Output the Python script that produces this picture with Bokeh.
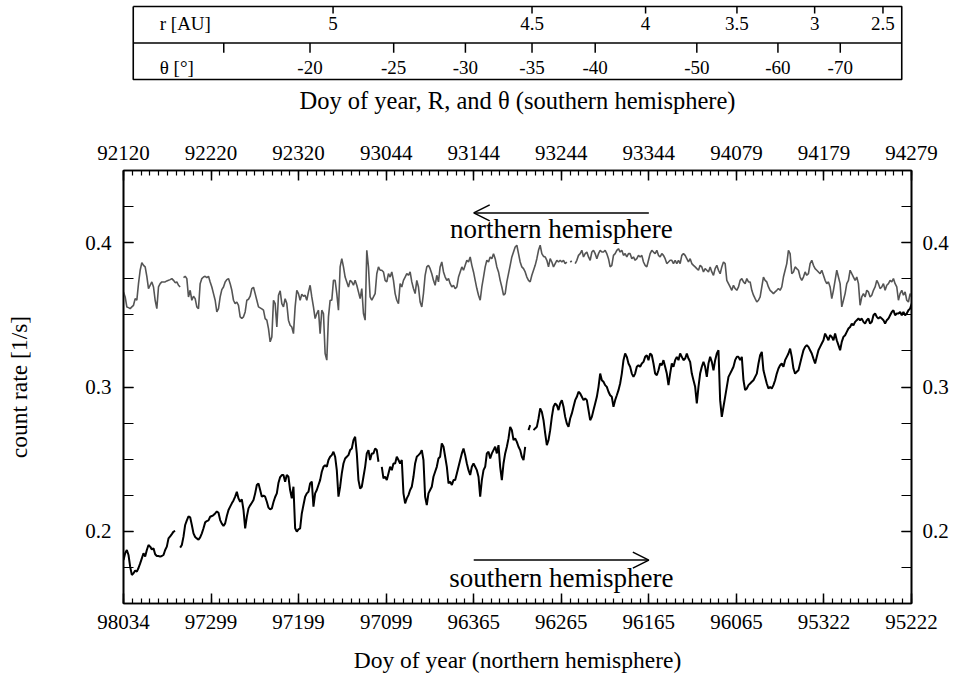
import numpy as np
from bokeh.plotting import figure
from bokeh.models import Range1d, FixedTicker, LinearAxis, Arrow, OpenHead, Label
from bokeh.layouts import column
from bokeh.embed import file_html
from bokeh.resources import INLINE
from bokeh.core.properties import value

nan = float("nan")
FONT = "Liberation Serif"

# ---------------- axis tick data ----------------
tick_days = [0, 100, 200, 300, 400, 500, 600, 700, 800, 900]
bottom_labels = ["98034", "97299", "97199", "97099", "96365",
                 "96265", "96165", "96065", "95322", "95222"]
top_labels = ["92120", "92220", "92320", "93044", "93144",
              "93244", "93344", "94079", "94179", "94279"]
rate_ticks = [0.2, 0.3, 0.4]
rate_labels = ["0.2", "0.3", "0.4"]

# strip above: heliocentric distance and latitude
r_days = [234, 467, 600, 707, 798, 878]
r_labels = ["5", "4.5", "4", "3.5", "3", "2.5"]
theta_days = [106, 207, 305, 389, 467, 541, 660, 755, 828]
theta_labels = ["", "-20", "-25", "-30", "-35", "-40", "-50", "-60", "-70"]

# ---------------- count-rate series (five consecutive segments) ----------------
segment_start = [0.0, 182.7, 365.5, 548.2, 730.9]
day_step = 1.9035

north_1 = [0.3659, 0.3624, 0.3555, 0.3550, 0.3543, 0.3555, 0.3566, 0.3612, 0.3601, 0.3716,
           0.3809, 0.3862, 0.3843, 0.3832, 0.3767, 0.3682, 0.3705, 0.3728, 0.3693, 0.3601,
           0.3543, 0.3693, 0.3716, 0.3728, 0.3728, 0.3728, 0.3735, 0.3739, 0.3744, 0.3751,
           0.3739, 0.3723, 0.3728, 0.3705, 0.3693, nan, 0.3758, 0.3767, 0.3751, 0.3624,
           0.3670, 0.3601, 0.3629, 0.3612, 0.3555, 0.3543, 0.3716, 0.3751, 0.3762, 0.3767,
           0.3758, 0.3767, 0.3728, 0.3693, 0.3647, 0.3601, 0.3520, 0.3543, 0.3624, 0.3675,
           0.3693, 0.3728, 0.3744, 0.3751, 0.3716, 0.3670, 0.3601, 0.3578, 0.3589, 0.3566,
           0.3486, 0.3476, 0.3486, 0.3520, 0.3601, 0.3608, 0.3629, 0.3682, 0.3691, 0.3647,
           0.3601, 0.3555, 0.3548, 0.3541, 0.3532, 0.3474, 0.3463, 0.3405, 0.3313, 0.3347,
           0.3601, 0.3578, 0.3416, 0.3636, 0.3666, 0.3578]
north_2 = [0.3555, 0.3612, 0.3578, 0.3463, 0.3428, 0.3416, 0.3370, 0.3555, 0.3670, 0.3647,
           0.3601, 0.3642, 0.3629, 0.3636, 0.3601, 0.3659, 0.3705, 0.3624, 0.3555, 0.3474,
           0.3509, 0.3532, 0.3370, 0.3532, 0.3509, 0.3232, 0.3186, 0.3486, 0.3601, 0.3601,
           0.3739, 0.3739, 0.3647, 0.3532, 0.3832, 0.3889, 0.3832, 0.3762, 0.3728, 0.3693,
           0.3739, 0.3728, 0.3705, 0.3739, 0.3705, 0.3659, 0.3612, 0.3682, 0.3509, 0.3463,
           0.3947, 0.3832, 0.3624, 0.3601, 0.3624, 0.3647, 0.3785, 0.3832, 0.3809, 0.3809,
           0.3797, 0.3739, 0.3728, 0.3785, 0.3762, 0.3797, 0.3739, 0.3647, 0.3601, 0.3578,
           0.3716, 0.3693, 0.3739, 0.3762, 0.3785, 0.3774, 0.3797, 0.3728, 0.3682, 0.3647,
           0.3739, 0.3693, 0.3589, 0.3555, 0.3647, 0.3774, 0.3832, 0.3843, 0.3820, 0.3785,
           0.3739, 0.3705, 0.3774, 0.3728, 0.3832, 0.3866]
north_3 = [0.3797, 0.3762, 0.3739, 0.3751, 0.3716, 0.3693, 0.3705, 0.3682, 0.3693, 0.3762,
           0.3797, 0.3832, 0.3809, 0.3843, 0.3878, 0.3866, 0.3901, 0.3843, 0.3797, 0.3739,
           0.3682, 0.3636, 0.3601, 0.3693, 0.3762, 0.3832, 0.3878, 0.3866, 0.3901, 0.3889,
           0.3924, 0.3889, 0.3832, 0.3797, 0.3739, 0.3693, 0.3636, 0.3647, 0.3728, 0.3785,
           0.3843, 0.3901, 0.3935, 0.3970, 0.3982, 0.3924, 0.3866, 0.3832, 0.3820, 0.3797,
           0.3762, 0.3739, 0.3728, 0.3774, 0.3809, 0.3843, 0.3889, 0.3947, 0.3982, 0.3924,
           0.3905, 0.3901, 0.3878, 0.3832, 0.3889, 0.3866, 0.3832, 0.3855, 0.3878, 0.3866,
           0.3878, 0.3866, 0.3878, 0.3855, 0.3866, nan, 0.3866, 0.3873, nan, 0.3855,
           0.3878, 0.3912, 0.3924, 0.3947, 0.3901, 0.3924, 0.3935, 0.3901, 0.3878, 0.3935,
           0.3947, 0.3924, 0.3889, 0.3924, 0.3947, 0.3935]
north_4 = [0.3935, 0.3947, 0.3924, 0.3889, 0.3832, 0.3843, 0.3912, 0.3924, 0.3947, 0.3958,
           0.3935, 0.3947, 0.3912, 0.3924, 0.3901, 0.3924, 0.3924, 0.3889, 0.3901, 0.3878,
           0.3889, 0.3912, 0.3901, 0.3912, 0.3866, 0.3843, 0.3832, 0.3878, 0.3924, 0.3947,
           0.3935, 0.3924, 0.3947, 0.3912, 0.3901, 0.3924, 0.3912, 0.3889, 0.3855, 0.3866,
           0.3878, 0.3878, 0.3855, 0.3878, 0.3855, 0.3878, 0.3855, 0.3912, 0.3924, 0.3912,
           0.3889, 0.3866, 0.3889, 0.3855, 0.3843, 0.3832, 0.3820, 0.3809, 0.3843, 0.3832,
           0.3797, 0.3820, 0.3809, 0.3797, 0.3832, 0.3797, 0.3774, 0.3820, 0.3843, 0.3809,
           0.3785, 0.3832, 0.3866, 0.3855, 0.3739, 0.3716, 0.3693, 0.3670, 0.3705, 0.3682,
           0.3670, 0.3693, 0.3739, 0.3751, 0.3728, 0.3716, 0.3751, 0.3728, 0.3728, 0.3670,
           0.3636, 0.3612, 0.3589, 0.3601, 0.3624, 0.3693]
north_5 = [0.3762, 0.3739, 0.3728, 0.3693, 0.3670, 0.3659, 0.3647, 0.3659, 0.3670, 0.3682,
           0.3670, 0.3693, 0.3762, 0.3809, 0.3855, 0.3947, 0.3924, 0.3785, 0.3797, 0.3832,
           0.3820, 0.3809, 0.3762, 0.3739, 0.3762, 0.3797, 0.3774, 0.3785, 0.3855, 0.3878,
           0.3843, 0.3820, 0.3809, 0.3797, 0.3785, 0.3809, 0.3774, 0.3739, 0.3716, 0.3728,
           0.3693, 0.3612, 0.3670, 0.3739, 0.3809, 0.3762, 0.3716, 0.3555, 0.3601, 0.3647,
           0.3716, 0.3739, 0.3809, 0.3785, 0.3762, 0.3739, 0.3762, 0.3716, 0.3566, 0.3624,
           0.3647, 0.3624, 0.3670, 0.3659, 0.3624, 0.3636, 0.3670, 0.3693, 0.3739, 0.3716,
           0.3682, 0.3693, 0.3716, 0.3670, 0.3705, 0.3716, 0.3739, 0.3728, 0.3751, 0.3716,
           0.3693, 0.3601, 0.3647, 0.3670, 0.3636, 0.3659, 0.3601, 0.3589, 0.3647, 0.3624]

south_1 = [0.1801, 0.1848, 0.1871, 0.1836, 0.1755, 0.1698, 0.1709, 0.1728, 0.1721, 0.1746,
           0.1778, 0.1813, 0.1848, 0.1825, 0.1871, 0.1905, 0.1894, 0.1875, 0.1882, 0.1841,
           0.1829, 0.1829, 0.1825, 0.1829, 0.1836, 0.1871, 0.1894, 0.1951, 0.1965, 0.1981,
           0.1998, 0.2002, nan, nan, 0.1887, 0.1905, 0.1963, 0.2044, 0.2076, 0.2104,
           0.2097, 0.2044, 0.1986, 0.1961, 0.1951, 0.1942, 0.1958, 0.1986, 0.2021, 0.2062,
           0.2071, 0.2076, 0.2101, 0.2106, 0.2113, 0.2124, 0.2138, 0.2129, 0.2078, 0.2053,
           0.2037, 0.2055, 0.2106, 0.2148, 0.2171, 0.2194, 0.2214, 0.2240, 0.2274, 0.2228,
           0.2205, 0.2221, 0.2148, 0.2021, 0.2101, 0.2159, 0.2180, 0.2198, 0.2217, 0.2263,
           0.2321, 0.2332, 0.2286, 0.2240, 0.2247, 0.2240, 0.2205, 0.2164, 0.2152, 0.2159,
           0.2203, 0.2238, 0.2263, 0.2337, 0.2376, 0.2390]
south_2 = [0.2390, 0.2344, 0.2390, 0.2378, 0.2286, 0.2228, 0.2309, 0.2021, 0.1998, 0.2014,
           0.2021, 0.2124, 0.2182, 0.2240, 0.2263, 0.2274, 0.2332, 0.2344, 0.2171, 0.2263,
           0.2286, 0.2321, 0.2355, 0.2413, 0.2447, 0.2459, 0.2447, 0.2494, 0.2517, 0.2528,
           0.2551, 0.2517, 0.2424, 0.2240, 0.2309, 0.2401, 0.2470, 0.2505, 0.2517, 0.2528,
           0.2563, 0.2574, 0.2632, 0.2655, 0.2540, 0.2355, 0.2297, 0.2309, 0.2378, 0.2447,
           0.2540, 0.2563, 0.2494, 0.2540, 0.2540, 0.2574, 0.2563, 0.2482, nan, 0.2447,
           0.2367, 0.2378, 0.2355, 0.2401, 0.2447, 0.2424, 0.2470, 0.2470, 0.2517, 0.2494,
           0.2470, 0.2494, 0.2263, 0.2194, 0.2228, 0.2251, 0.2286, 0.2309, 0.2378, 0.2470,
           0.2517, 0.2528, 0.2540, 0.2563, 0.2494, 0.2240, 0.2182, 0.2263, 0.2286, 0.2309,
           0.2378, 0.2413, 0.2447, 0.2505, 0.2517, 0.2609]
south_3 = [0.2586, 0.2517, 0.2447, 0.2332, 0.2344, 0.2321, 0.2355, 0.2355, 0.2401, 0.2447,
           0.2494, 0.2540, 0.2574, 0.2528, 0.2470, 0.2424, 0.2390, 0.2447, 0.2470, 0.2447,
           0.2424, 0.2378, 0.2240, 0.2355, 0.2424, 0.2447, 0.2540, 0.2551, 0.2505, 0.2540,
           0.2563, 0.2586, 0.2540, 0.2597, 0.2447, 0.2355, 0.2470, 0.2540, 0.2586, 0.2644,
           0.2724, 0.2701, 0.2632, 0.2644, 0.2620, 0.2586, 0.2563, 0.2517, 0.2494, 0.2586,
           nan, 0.2701, 0.2736, nan, 0.2701, 0.2713, 0.2724, 0.2782, 0.2851, 0.2828,
           0.2770, 0.2678, 0.2597, 0.2632, 0.2701, 0.2793, 0.2863, 0.2886, 0.2874, 0.2840,
           0.2886, 0.2909, 0.2863, 0.2793, 0.2747, 0.2724, 0.2782, 0.2817, 0.2863, 0.2909,
           0.2932, 0.2967, 0.2955, 0.2932, 0.2909, 0.2920, 0.2909, 0.2840, 0.2770, 0.2793,
           0.2840, 0.2886, 0.2932, 0.3001, 0.3093, 0.3047]
south_4 = [0.3036, 0.3013, 0.3001, 0.2967, 0.2943, 0.2932, 0.2863, 0.2909, 0.2943, 0.2978,
           0.3024, 0.3093, 0.3186, 0.3232, 0.3209, 0.3163, 0.3140, 0.3093, 0.3070, 0.3093,
           0.3140, 0.3151, 0.3140, 0.3163, 0.3174, 0.3209, 0.3220, 0.3186, 0.3232, 0.3220,
           0.3163, 0.3093, 0.3082, 0.3116, 0.3163, 0.3151, 0.3186, 0.3140, 0.3093, 0.3013,
           0.3093, 0.3163, 0.3140, 0.3186, 0.3209, 0.3186, 0.3232, 0.3209, 0.3186, 0.3197,
           0.3232, 0.3197, 0.3174, 0.3093, 0.3047, 0.3001, 0.2886, 0.3001, 0.3093, 0.3140,
           0.3174, 0.3140, 0.3070, 0.3163, 0.3209, 0.3174, 0.3116, 0.3186, 0.3232, 0.3255,
           0.2909, 0.2793, 0.2863, 0.2932, 0.3001, 0.3070, 0.3093, 0.3116, 0.3140, 0.3186,
           0.3209, 0.3209, 0.3186, 0.3209, 0.3047, 0.2978, 0.2990, 0.3013, 0.3024, 0.3036,
           0.3047, 0.3070, 0.3093, 0.3163, 0.3220, 0.3243]
south_5 = [0.3116, 0.3070, 0.3024, 0.2990, 0.3001, 0.2990, 0.3013, 0.3047, 0.3093, 0.3128,
           0.3151, 0.3163, 0.3140, 0.3186, 0.3209, 0.3232, 0.3266, 0.3209, 0.3128, 0.3093,
           0.3105, 0.3116, 0.3163, 0.3209, 0.3255, 0.3278, 0.3290, 0.3278, 0.3255, 0.3232,
           0.3197, 0.3163, 0.3209, 0.3255, 0.3278, 0.3301, 0.3324, 0.3370, 0.3347, 0.3324,
           0.3359, 0.3347, 0.3324, 0.3370, 0.3324, 0.3290, 0.3255, 0.3313, 0.3347, 0.3359,
           0.3382, 0.3405, 0.3416, 0.3439, 0.3428, 0.3451, 0.3463, 0.3474, 0.3463, 0.3474,
           0.3451, 0.3439, 0.3463, 0.3474, 0.3439, 0.3451, 0.3497, 0.3509, 0.3486, 0.3474,
           0.3486, 0.3474, 0.3463, 0.3439, 0.3463, 0.3474, 0.3497, 0.3520, 0.3532, 0.3497,
           0.3509, 0.3509, 0.3520, 0.3497, 0.3520, 0.3497, 0.3509, 0.3532, 0.3543, 0.3578]

north_segments = [north_1, north_2, north_3, north_4, north_5]
south_segments = [south_1, south_2, south_3, south_4, south_5]


def join(segments):
    xs, ys = [], []
    for start, seg in zip(segment_start, segments):
        xs.extend(start + day_step * np.arange(len(seg)))
        ys.extend(seg)
    return np.array(xs), np.array(ys, dtype=float)


nx, ny = join(north_segments)
sx, sy = join(south_segments)

# annotation arrows and their captions (day, rate)
north_arrow = dict(x_start=600, x_end=400, y=0.4206)
south_arrow = dict(x_start=400, x_end=600, y=0.1801)
north_caption = dict(x=500, y=0.4098, text="northern hemisphere")
south_caption = dict(x=500, y=0.1680, text="southern hemisphere")

# ---------------- strip figure ----------------
s = figure(width=968, height=125, x_range=Range1d(-11.42, 911.42), y_range=Range1d(-1.260, 2.164),
           min_border_left=113, min_border_right=47, min_border_top=0, min_border_bottom=0,
           x_axis_location=None, y_axis_location=None, output_backend="svg",
           toolbar_location=None, outline_line_color=None)
s.xgrid.visible = False
s.ygrid.visible = False
s.multi_line(xs=[[0, 900, 900, 0, 0], [0, 900]], ys=[[2, 2, 0, 0, 2], [1, 1]],
             line_color="black", line_width=1.6)
s.segment(x0=r_days, y0=[2] * len(r_days), x1=r_days, y1=[1.81] * len(r_days),
          line_color="black", line_width=1.5)
s.segment(x0=theta_days, y0=[1] * len(theta_days), x1=theta_days, y1=[0.73] * len(theta_days),
          line_color="black", line_width=1.5)
s.text(x=r_days, y=[1.53] * len(r_days), text=r_labels, text_align="center",
       text_baseline="middle", text_font=value(FONT), text_font_size="19px", text_color="black")
s.text(x=theta_days, y=[0.33] * len(theta_days), text=theta_labels, text_align="center",
       text_baseline="middle", text_font=value(FONT), text_font_size="19px", text_color="black")
s.text(x=[31, 31], y=[1.53, 0.33], text=["r [AU]", "θ [°]"], text_align="left",
       text_baseline="middle", text_font=value(FONT), text_font_size="19px", text_color="black")
s.text(x=[450], y=[-0.575], text=["Doy of year, R, and θ (southern hemisphere)"],
       text_align="center", text_baseline="middle", text_font=value(FONT),
       text_font_size="24.5px", text_color="black")

# ---------------- main figure ----------------
p = figure(width=968, height=550, x_range=Range1d(0, 900), y_range=Range1d(0.15, 0.45),
           min_border_left=123, min_border_right=57, min_border_top=45, min_border_bottom=72,
           x_axis_location=None, y_axis_location=None, output_backend="svg",
           toolbar_location=None, outline_line_color="black", outline_line_width=1.6)
p.xgrid.visible = False
p.ygrid.visible = False

minor_days = list(range(0, 901, 10))
minor_rates = [0.15 + 0.025 * i for i in range(13)]


def style(ax, font_size="21px"):
    ax.axis_line_color = "black"
    ax.axis_line_width = 1.6
    ax.major_tick_line_color = "black"
    ax.major_tick_line_width = 1.5
    ax.minor_tick_line_color = "black"
    ax.minor_tick_line_width = 1.2
    ax.major_tick_out = 0
    ax.minor_tick_out = 0
    ax.major_label_text_font = FONT
    ax.major_label_text_font_size = font_size
    ax.major_label_text_color = "black"
    ax.axis_label_text_font = FONT
    ax.axis_label_text_font_size = "23.5px"
    ax.axis_label_text_font_style = "normal"
    ax.axis_label_text_color = "black"


bottom = LinearAxis(ticker=FixedTicker(ticks=tick_days, minor_ticks=minor_days),
                    major_label_overrides=dict(zip(tick_days, bottom_labels)),
                    axis_label="Doy of year (northern hemisphere)")
style(bottom)
bottom.major_tick_in = 10
bottom.minor_tick_in = 5
bottom.major_label_standoff = 11
bottom.axis_label_standoff = 15
p.add_layout(bottom, "below")

top = LinearAxis(ticker=FixedTicker(ticks=tick_days, minor_ticks=minor_days),
                 major_label_overrides=dict(zip(tick_days, top_labels)))
style(top)
top.major_tick_in = 10
top.minor_tick_in = 5
top.major_label_standoff = 11
p.add_layout(top, "above")

left = LinearAxis(ticker=FixedTicker(ticks=rate_ticks, minor_ticks=minor_rates),
                  major_label_overrides=dict(zip(rate_ticks, rate_labels)),
                  axis_label="count rate [1/s]")
style(left)
left.major_tick_in = 10
left.minor_tick_in = 10
left.major_label_standoff = 12
left.axis_label_standoff = 50
p.add_layout(left, "left")

right = LinearAxis(ticker=FixedTicker(ticks=rate_ticks, minor_ticks=minor_rates),
                   major_label_overrides=dict(zip(rate_ticks, rate_labels)))
style(right)
right.major_tick_in = 10
right.minor_tick_in = 10
right.major_label_standoff = 11
p.add_layout(right, "right")

p.line(nx, ny, line_color="#555555", line_width=1.6)
p.line(sx, sy, line_color="black", line_width=2.0)

for arr in (north_arrow, south_arrow):
    p.add_layout(Arrow(end=OpenHead(size=16, line_width=1.5, line_color="black"),
                       x_start=arr["x_start"], y_start=arr["y"],
                       x_end=arr["x_end"], y_end=arr["y"],
                       line_color="black", line_width=1.5))
for cap in (north_caption, south_caption):
    p.add_layout(Label(x=cap["x"], y=cap["y"], text=cap["text"], text_align="center",
                       text_baseline="middle", text_font=FONT, text_font_size="27px",
                       text_color="black"))

layout = column(s, p)
open("out.html", "w").write(file_html(layout, INLINE))
